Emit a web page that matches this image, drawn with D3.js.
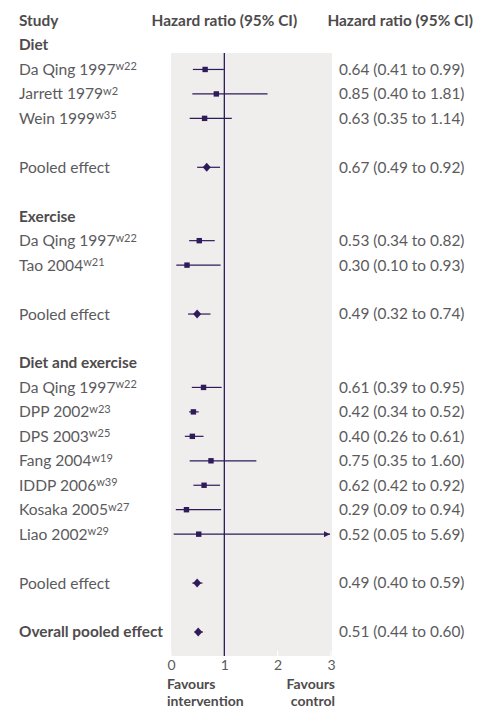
<!DOCTYPE html>
<html><head><meta charset="utf-8">
<script src="https://cdn.jsdelivr.net/npm/d3@7"></script>
<style>
html,body{margin:0;padding:0;background:#fff;}
svg{display:block;font-family:Lato,"Open Sans",sans-serif;}
</style></head><body>
<svg id="c" width="494" height="718"></svg>
<script>
// ---- data ----
const rowLabels = ["Diet","Da Qing 1997","Jarrett 1979","Wein 1999","","Pooled effect","","Exercise","Da Qing 1997","Tao 2004","","Pooled effect","","Diet and exercise","Da Qing 1997","DPP 2002","DPS 2003","Fang 2004","IDDP 2006","Kosaka 2005","Liao 2002","","Pooled effect","","Overall pooled effect"];
const rowRefs   = ["","w22","w2","w35","","","","","w22","w21","","","","","w22","w23","w25","w19","w39","w27","w29","","","",""];
const rowKinds  = ["head","study","study","study","","pool","","head","study","study","","pool","","head","study","study","study","study","study","study","study","","pool","","overall"];
const hr        = [null,0.64,0.85,0.63,null,0.67,null,null,0.53,0.30,null,0.49,null,null,0.61,0.42,0.40,0.75,0.62,0.29,0.52,null,0.49,null,0.51];
const lo        = [null,0.41,0.40,0.35,null,0.49,null,null,0.34,0.10,null,0.32,null,null,0.39,0.34,0.26,0.35,0.42,0.09,0.05,null,0.40,null,0.44];
const hi        = [null,0.99,1.81,1.14,null,0.92,null,null,0.82,0.93,null,0.74,null,null,0.95,0.52,0.61,1.60,0.92,0.94,5.69,null,0.59,null,0.60];
const xTicks    = [0,1,2,3];
const headers   = ["Study","Hazard ratio (95% CI)","Hazard ratio (95% CI)"];
const xDomain   = [0,3];

// ---- layout ----
const svg = d3.select("#c");
const textCol = "#5b5b5d", boldCol = "#4e4b4c", mark = "#2f1a5a", panel = "#efeeed";
const fs = 15.6;
const x = d3.scaleLinear().domain(xDomain).range([171, 331]);
const y = d3.scaleLinear().domain([0, rowLabels.length-1]).range([45, 632]);
const yHead = y(-1);
const panelTop = 53, panelBot = 656;

// panel
svg.append("rect").attr("x", x(0)).attr("y", panelTop)
  .attr("width", x(3)-x(0)+1).attr("height", panelBot-panelTop).attr("fill", panel);

// headers
const hdr = svg.append("g").attr("font-weight", 700).attr("font-size", 15.4).attr("fill", boldCol);
hdr.append("text").attr("x", 19).attr("y", yHead).attr("dy", "0.35em").text(headers[0]);
hdr.append("text").attr("x", x(1)).attr("y", yHead).attr("dy", "0.35em").attr("text-anchor","middle").text(headers[1]);
hdr.append("text").attr("x", 473).attr("y", yHead).attr("dy", "0.35em").attr("text-anchor","end").text(headers[2]);

// row labels
rowLabels.forEach((lab, i) => {
  if (!lab) return;
  const k = rowKinds[i];
  const bold = (k === "head" || k === "overall");
  const t = svg.append("text").attr("x", 19).attr("y", y(i)).attr("dy", "0.35em")
    .attr("font-size", bold ? 15.4 : fs).attr("font-weight", bold ? 700 : 400)
    .attr("fill", bold ? boldCol : textCol).text(lab);
  if (rowRefs[i]) {
    t.append("tspan").attr("dy", "-0.42em").attr("font-size", 11).text(rowRefs[i]);
  }
  if (hr[i] != null) {
    svg.append("text").attr("x", 339).attr("y", y(i)).attr("dy", "0.35em")
      .attr("font-size", 15.4).attr("fill", textCol)
      .text(`${hr[i].toFixed(2)} (${lo[i].toFixed(2)} to ${hi[i].toFixed(2)})`);
  }
});

// axis ticks (white inside panel) & labels
const ax = svg.append("g").attr("transform", `translate(0,${panelBot})`)
  .call(d3.axisBottom(x).tickValues(xTicks).tickSize(0).tickPadding(4).tickFormat(d3.format("d")));
ax.select(".domain").remove();
ax.selectAll("text").attr("font-size", 14).attr("fill", textCol).attr("font-family", "Lato,sans-serif");
svg.append("g").selectAll("line").data(xTicks).join("line")
  .attr("x1", d => x(d)).attr("x2", d => x(d)).attr("y1", panelBot-5).attr("y2", panelBot)
  .attr("stroke", "#fff").attr("stroke-width", 1);

// reference line at 1
svg.append("line").attr("x1", x(1)).attr("x2", x(1)).attr("y1", panelTop).attr("y2", panelBot)
  .attr("stroke", mark).attr("stroke-width", 1.3);

// arrow marker
svg.append("defs").append("marker").attr("id","arr").attr("viewBox","0 0 10 10")
  .attr("refX", 10).attr("refY", 5).attr("markerWidth", 7).attr("markerHeight", 6)
  .attr("markerUnits","userSpaceOnUse").attr("orient","auto")
  .append("path").attr("d","M0,0L10,5L0,10Z").attr("fill", mark);

// CI lines and markers
hr.forEach((v, i) => {
  if (v == null) return;
  const cy = y(i);
  const clipped = hi[i] > xDomain[1];
  svg.append("line").attr("x1", x(lo[i])).attr("x2", clipped ? x(xDomain[1]) - 1 : x(hi[i]))
    .attr("y1", cy).attr("y2", cy).attr("stroke", mark).attr("stroke-width", 1.2)
    .attr("marker-end", clipped ? "url(#arr)" : null);
  const cx = x(v);
  if (rowKinds[i] === "study") {
    svg.append("rect").attr("x", cx-2.7).attr("y", cy-2.7).attr("width", 5.4).attr("height", 5.4).attr("fill", mark);
  } else {
    svg.append("path").attr("d", `M${cx},${cy-4.5}L${cx+4},${cy}L${cx},${cy+4.5}L${cx-4},${cy}Z`).attr("fill", mark);
  }
});

// favours labels
const fav = svg.append("g").attr("font-weight", 700).attr("font-size", 14).attr("fill", boldCol);
fav.append("text").attr("x", 167).attr("y", 684).attr("dy","0.35em").text("Favours");
fav.append("text").attr("x", 167).attr("y", 701).attr("dy","0.35em").text("intervention");
fav.append("text").attr("x", 335).attr("y", 684).attr("dy","0.35em").attr("text-anchor","end").text("Favours");
fav.append("text").attr("x", 335).attr("y", 701).attr("dy","0.35em").attr("text-anchor","end").text("control");
</script>
</body></html>
